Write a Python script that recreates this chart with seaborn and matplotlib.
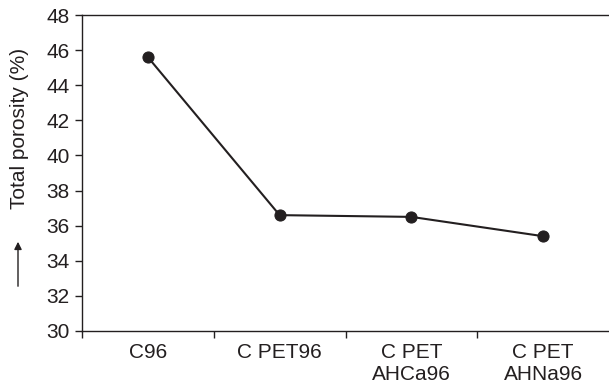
import matplotlib
matplotlib.use("Agg")
import matplotlib.pyplot as plt
import seaborn as sns
import pandas as pd
from matplotlib.ticker import FixedLocator

categories = ["C96", "C PET96", "C PET\nAHCa96", "C PET\nAHNa96"]
porosity = [45.6, 36.6, 36.5, 35.4]
y_ticks = [30, 32, 34, 36, 38, 40, 42, 44, 46, 48]

sns.set_theme(style="white")
plt.rcParams["font.family"] = ["Liberation Sans", "DejaVu Sans"]

ink = "#231f20"
fs = 15
df = pd.DataFrame({"pos": range(len(categories)), "porosity": porosity})

fig = plt.figure(figsize=(6.09, 3.87), dpi=100)
ax = fig.add_axes([82 / 609, 1 - 331 / 387, 527 / 609, 316 / 387])

sns.lineplot(data=df, x="pos", y="porosity", ax=ax, color=ink, linewidth=1.5,
             marker="o", markersize=8, markeredgecolor=ink, markerfacecolor=ink)

ax.set_xlim(-0.5, len(categories) - 0.5)
ax.set_ylim(30, 48)
ax.set_yticks(y_ticks)
ax.set_yticklabels([str(v) for v in y_ticks], fontsize=fs, color=ink)
ax.set_xticks(range(len(categories)))
ax.set_xticklabels(categories, fontsize=fs, color=ink, linespacing=1.15)
ax.xaxis.set_minor_locator(FixedLocator([i - 0.5 for i in range(len(categories))]))
ax.tick_params(axis="x", which="major", length=0, pad=9)
ax.tick_params(axis="x", which="minor", length=5, width=1, color=ink, direction="out", bottom=True)
ax.tick_params(axis="y", length=5, width=1, color=ink, direction="out", left=True, pad=4)
ax.set_xlabel("")
ax.set_ylabel("")

ax.spines["right"].set_visible(False)
for side in ["left", "bottom", "top"]:
    ax.spines[side].set_color(ink)
    ax.spines[side].set_linewidth(1.0)

fig.text(20 / 609, 1 - 128 / 387, "Total porosity (%)", rotation=90,
         ha="center", va="center", fontsize=fs, color=ink)
fig.add_artist(matplotlib.patches.FancyArrowPatch(
    (18 / 609, 1 - 289 / 387), (18 / 609, 1 - 239 / 387),
    transform=fig.transFigure, arrowstyle="-|>", mutation_scale=11,
    color=ink, linewidth=1.0))

fig.savefig("out.png", dpi=100)
